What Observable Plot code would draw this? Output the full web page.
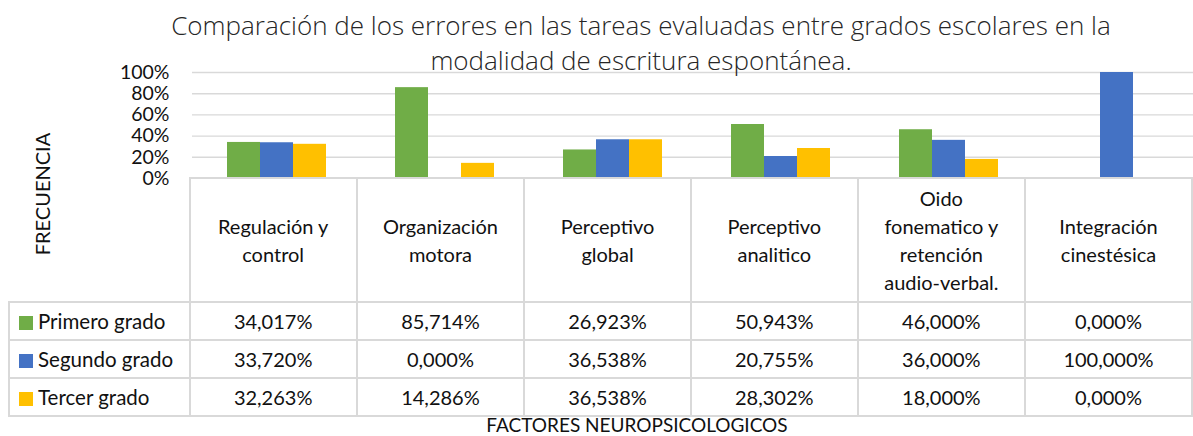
<!DOCTYPE html>
<html>
<head>
<meta charset="utf-8">
<script src="https://cdn.jsdelivr.net/npm/d3@7"></script>
<script src="https://cdn.jsdelivr.net/npm/@observablehq/plot@0.6"></script>
<style>
  html, body { margin: 0; padding: 0; background: #fff; overflow: hidden; }
  #wrap { position: relative; width: 1193px; height: 436px; overflow: hidden; font-family: Lato, "Open Sans", sans-serif; color: #111; }
  #plot { position: absolute; left: 0; top: 0; width: 1202px; }
  #title { position: absolute; left: 0; top: 8px; width: 1282px; text-align: center; font-family: "Open Sans", sans-serif; font-weight: 300; font-size: 26px; line-height: 35px; color: #262626; }
  #ytitle { position: absolute; left: 42px; top: 194px; transform: translate(-50%, -50%) rotate(-90deg); white-space: nowrap; font-size: 20px; line-height: 24px; }
  #xtitle { position: absolute; z-index: 2; left: 0; top: 416px; width: 1274px; text-align: center; font-size: 19px; line-height: 18px; }
  table { position: absolute; z-index: 1; left: 8px; top: 177px; border-collapse: collapse; table-layout: fixed; font-size: 20px; }
  td { border: 2px solid #d9d9d9; padding: 0; text-align: center; vertical-align: middle; white-space: nowrap; }
  tr.head td { height: 122px; line-height: 28px; }
  tr.row td { height: 36px; line-height: 24px; }
  td.corner { border-top: none; border-left: none; }
  td.lab { text-align: left; padding-left: 9px; font-size: 20.5px; }
  .sw { display: inline-block; width: 14px; height: 14px; margin-right: 5px; vertical-align: -1px; }
</style>
</head>
<body>
<div id="wrap">
  <div id="plot"></div>
  <div id="title"></div>
  <div id="ytitle"></div>
  <div id="xtitle"></div>
</div>
<script>
const titleLines = ["Comparación de los errores en las tareas evaluadas entre grados escolares en la", "modalidad de escritura espontánea."];
const yTitle = "FRECUENCIA";
const xTitle = "FACTORES NEUROPSICOLOGICOS";
const categories = ["Regulación y control", "Organización motora", "Perceptivo global", "Perceptivo analitico", "Oido fonematico y retención audio-verbal.", "Integración cinestésica"];
const categoryLines = [["Regulación y", "control"], ["Organización", "motora"], ["Perceptivo", "global"], ["Perceptivo", "analitico"], ["Oido", "fonematico y", "retención", "audio-verbal."], ["Integración", "cinestésica"]];
const series = ["Primero grado", "Segundo grado", "Tercer grado"];
const primero = [34.017, 85.714, 26.923, 50.943, 46.000, 0.000];
const segundo = [33.720, 0.000, 36.538, 20.755, 36.000, 100.000];
const tercer = [32.263, 14.286, 36.538, 28.302, 18.000, 0.000];
const colors = ["#70AD47", "#4472C4", "#FFC000"];
const yTicks = [0, 20, 40, 60, 80, 100];

const seriesValues = [primero, segundo, tercer];
const data = [];
categories.forEach((c, i) => series.forEach((s, j) => data.push({cat: c, series: s, value: seriesValues[j][i]})));

const chart = Plot.plot({
  width: 1202,
  height: 180,
  marginLeft: 189,
  marginRight: 0,
  marginTop: 72,
  marginBottom: 2,
  style: {fontFamily: "Lato, sans-serif", fontSize: "19px", color: "#111", background: "transparent", overflow: "visible"},
  fx: {domain: categories, padding: 0, axis: null},
  x: {domain: series, paddingInner: 0, paddingOuter: 1, axis: null},
  y: {domain: [0, 100], axis: null},
  color: {domain: series, range: colors},
  marks: [
    Plot.ruleY(yTicks.filter(d => d > 0), {stroke: "#d9d9d9", strokeWidth: 1.4}),
    Plot.barY(data, {fx: "cat", x: "series", y: "value", fill: "series"}),
    Plot.axisY({ticks: yTicks, tickFormat: d => d + "%", tickSize: 0, tickPadding: 23, label: null, fontSize: 19.5, fill: "#111"})
  ]
});
document.getElementById("plot").appendChild(chart);

document.getElementById("title").innerHTML = titleLines.join("<br>");
document.getElementById("ytitle").textContent = yTitle;
document.getElementById("xtitle").textContent = xTitle;

// data table
const table = document.createElement("table");
const colgroup = document.createElement("colgroup");
[181, ...categories.map(() => 168.83)].forEach(w => {
  const col = document.createElement("col");
  col.style.width = w + "px";
  colgroup.appendChild(col);
});
table.appendChild(colgroup);
const head = document.createElement("tr");
head.className = "head";
const corner = document.createElement("td");
corner.className = "corner";
head.appendChild(corner);
categoryLines.forEach(lines => {
  const td = document.createElement("td");
  td.innerHTML = lines.join("<br>");
  head.appendChild(td);
});
table.appendChild(head);
const fmt = v => v.toFixed(3).replace(".", ",") + "%";
series.forEach((s, j) => {
  const tr = document.createElement("tr");
  tr.className = "row";
  const lab = document.createElement("td");
  lab.className = "lab";
  lab.innerHTML = `<span class="sw" style="background:${colors[j]}"></span>${s}`;
  tr.appendChild(lab);
  seriesValues[j].forEach(v => {
    const td = document.createElement("td");
    td.textContent = fmt(v);
    tr.appendChild(td);
  });
  table.appendChild(tr);
});
document.getElementById("wrap").appendChild(table);
</script>
</body>
</html>
